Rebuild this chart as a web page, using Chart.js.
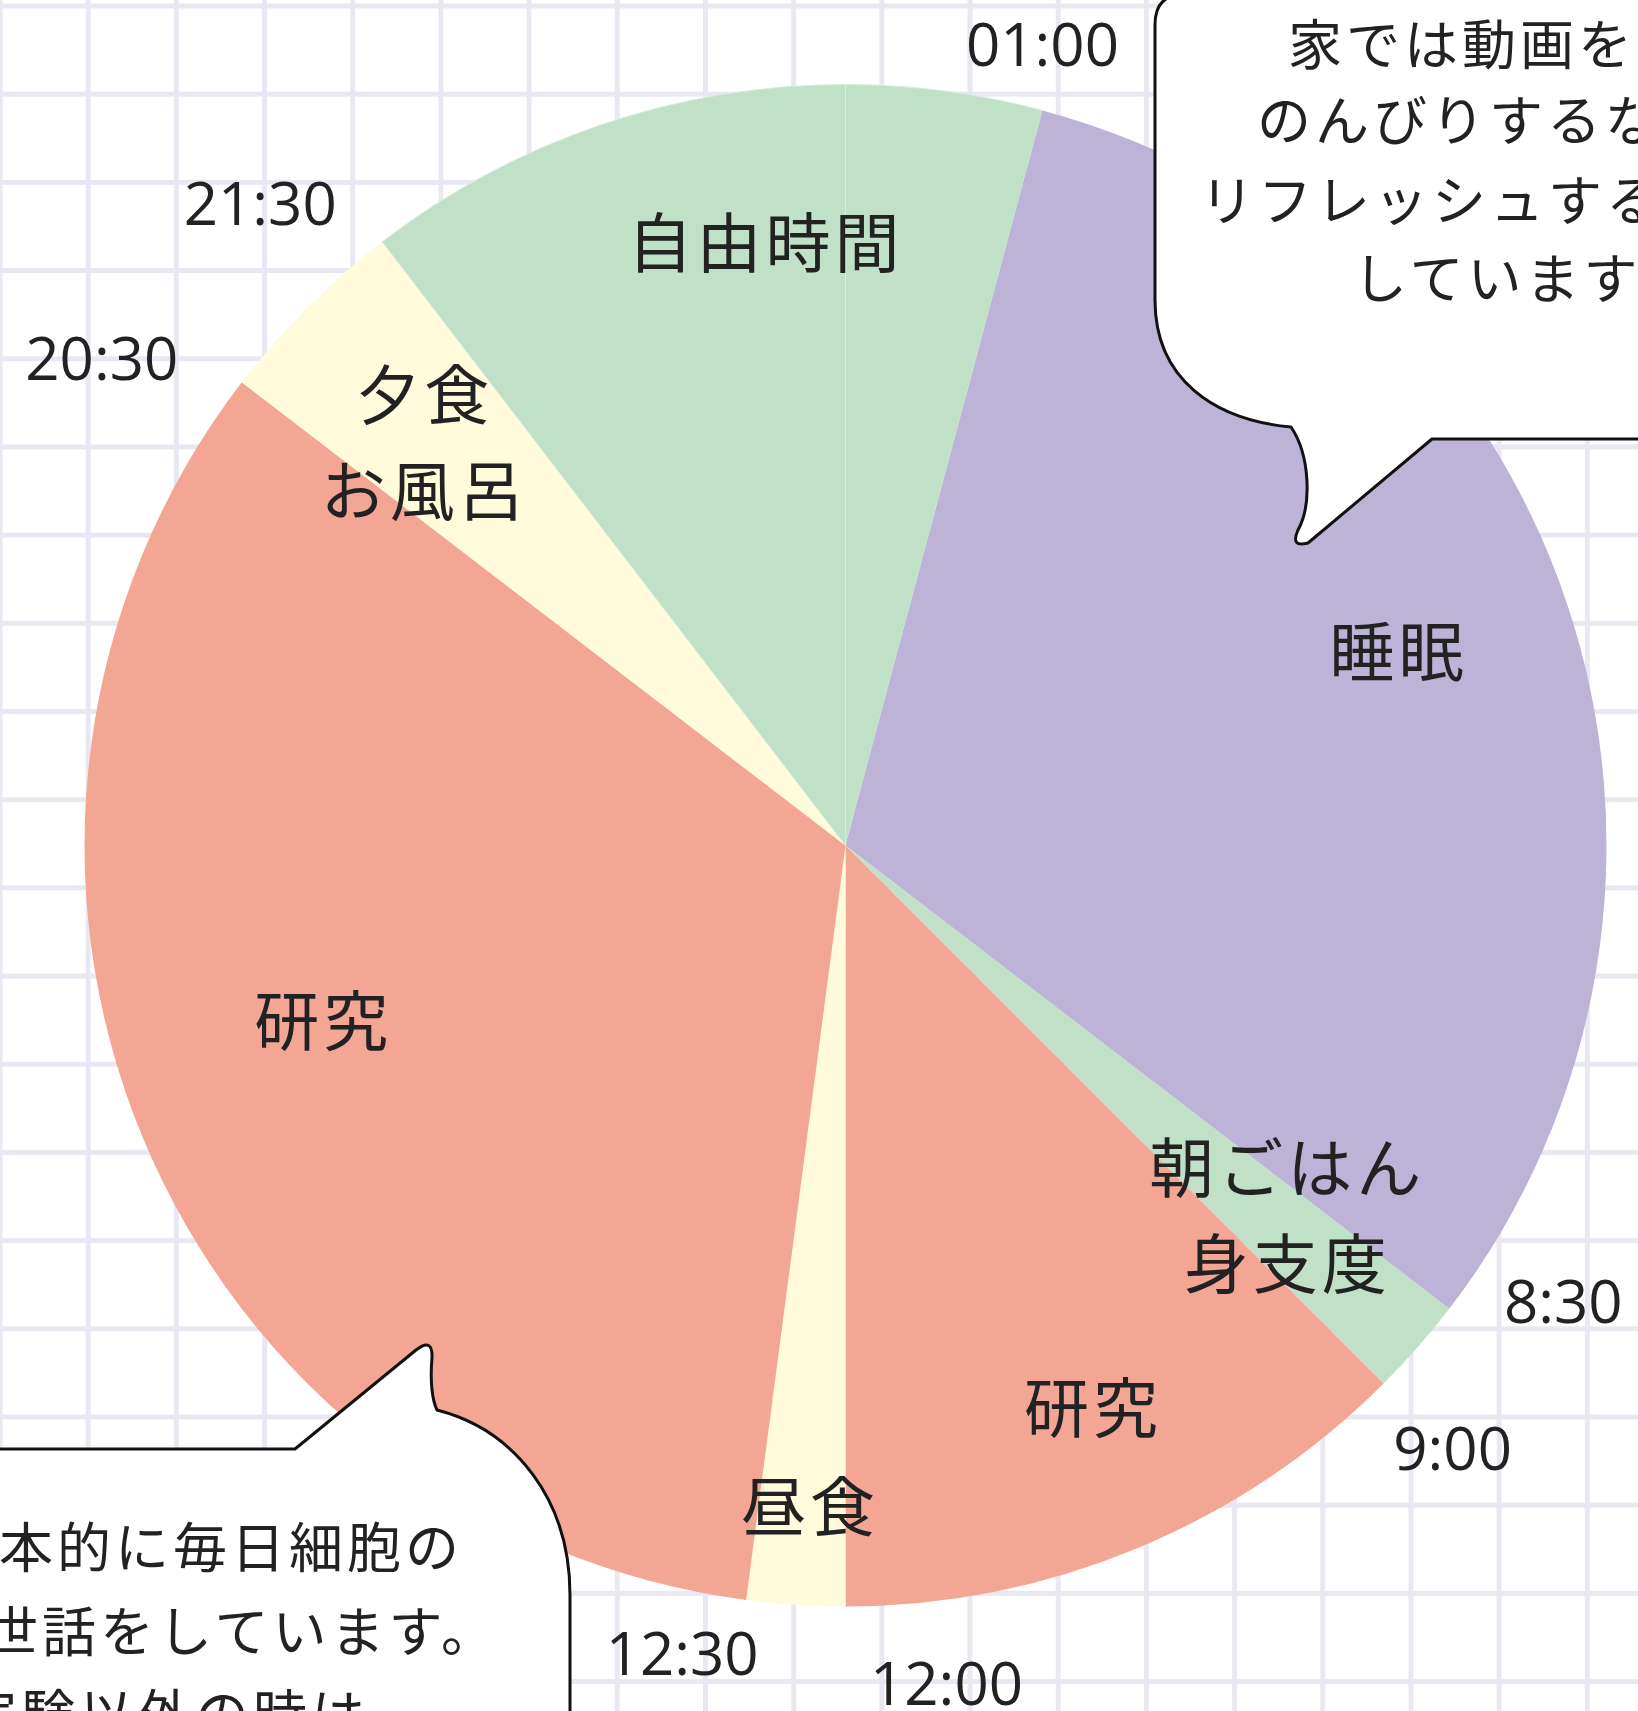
<!DOCTYPE html>
<html><head><meta charset="utf-8">
<script src="https://cdn.jsdelivr.net/npm/chart.js@4/dist/chart.umd.min.js"></script>
<style>
html,body{margin:0;padding:0;width:1638px;height:1711px;overflow:hidden;background-color:#fff;}
body{background-image:linear-gradient(to right,#e9e8f2 5px,transparent 5px),linear-gradient(to bottom,#e9e8f2 5px,transparent 5px);background-size:88.2px 88.2px;background-position:-2.5px 3.5px;}
#wrap{position:absolute;left:0;top:0;width:1638px;height:1711px;}
#over{position:absolute;left:0;top:0;}
</style></head>
<body>
<div id="wrap"><canvas id="c"></canvas></div>
<svg id="over" width="1638" height="1711" viewBox="0 0 1638 1711">
  <path d="M 1700,-6 L 1185,-6 Q 1155,-6 1155,25 L 1155,300 C 1155,380 1215,420 1291,427 C 1310,455 1312,505 1298,530 Q 1290,548 1308,543 L 1432,439 L 1700,439 Z" fill="#fff" stroke="#111" stroke-width="3" stroke-linejoin="round"/>
  <path d="M -10,1449 L 295,1449 L 416,1350 Q 433,1337 432,1358 C 430,1380 432,1400 437,1410 C 515,1430 570,1500 570,1595 L 570,1720 L -10,1720 Z" fill="#fff" stroke="#111" stroke-width="3" stroke-linejoin="round"/>
  <g font-family="Noto Sans CJK JP" font-size="54" letter-spacing="4" fill="#222">
    <text x="1288" y="65">家では動画を見て</text>
    <text x="1257" y="141">のんびりするなどして</text>
    <text x="1200" y="221">リフレッシュするように</text>
    <text x="1353" y="299">しています。</text>
    <text x="-59" y="1568">基本的に毎日細胞の</text>
    <text x="-74" y="1652">お世話をしています。</text>
    <text x="-37" y="1735">実験以外の時は、</text>
  </g>
</svg>
<script>
// ---- data ----
const categories = ['自由時間','睡眠','朝ごはん\n身支度','研究','昼食','研究','夕食\nお風呂','自由時間'];
const hours = [1, 7.5, 0.5, 3, 0.5, 8, 1, 2.5];
const endTimeLabels = ['01:00','8:30','9:00','12:00','12:30','20:30','21:30',''];
// ---- styles ----
const sliceColors = ['#c0e0c8','#bcb3d6','#c0e0c8','#f4a694','#fffbdb','#f4a694','#fffbdb','#c0e0c8'];

function drawSpaced(ctx, text, x, y, spacing){
  const chars = Array.from(text);
  const ws = chars.map(ch => ctx.measureText(ch).width);
  const total = ws.reduce((a,b)=>a+b,0) + spacing*(chars.length-1);
  let cur = x - total/2;
  ctx.textAlign = 'left';
  chars.forEach((ch,i)=>{ ctx.fillText(ch, cur, y); cur += ws[i] + spacing; });
}

const sliceLabelPlugin = {
  id:'sliceLabels',
  afterDatasetsDraw(chart, args, opts){
    const ctx = chart.ctx;
    const arcs = chart.getDatasetMeta(0).data;
    ctx.save();
    ctx.fillStyle = opts.color;
    ctx.font = opts.font;
    ctx.textBaseline = 'alphabetic';
    opts.items.forEach(it=>{
      const a0 = arcs[it.from].getProps(['x','y','startAngle','outerRadius'], true);
      const a1 = arcs[it.to].getProps(['endAngle'], true);
      let s = a0.startAngle, e = a1.endAngle;
      if (e < s) e += Math.PI*2;
      const mid = (s+e)/2 + it.da*Math.PI/180;
      const r = a0.outerRadius*it.rf;
      const px = a0.x + r*Math.cos(mid), py = a0.y + r*Math.sin(mid);
      const lines = categories[it.from].split('\n');
      const n = lines.length;
      lines.forEach((ln,k)=>{
        const cy = py + (k-(n-1)/2)*opts.lineHeight;
        drawSpaced(ctx, ln, px, cy + opts.size*0.38, opts.spacing);
      });
    });
    ctx.restore();
  }
};

const timeLabelPlugin = {
  id:'timeLabels',
  afterDatasetsDraw(chart, args, opts){
    const ctx = chart.ctx;
    const arcs = chart.getDatasetMeta(0).data;
    ctx.save();
    ctx.fillStyle = opts.color;
    ctx.font = opts.font;
    ctx.textBaseline = 'alphabetic';
    ctx.textAlign = 'center';
    arcs.forEach((arc,i)=>{
      const t = endTimeLabels[i];
      if(!t) return;
      const p = arc.getProps(['x','y','endAngle','outerRadius'], true);
      const bx = p.x + p.outerRadius*Math.cos(p.endAngle);
      const by = p.y + p.outerRadius*Math.sin(p.endAngle);
      const off = opts.offsets[i];
      ctx.fillText(t, bx+off[0], by+off[1]+opts.size*0.357);
    });
    ctx.restore();
  }
};

new Chart(document.getElementById('c'), {
  type:'pie',
  data:{
    labels: categories,
    datasets:[{
      data: hours,
      backgroundColor: sliceColors,
      borderWidth: [1,0,0,0,0,0,0,1],
      borderColor: '#d6ecdd'
    }]
  },
  options:{
    responsive:true,
    maintainAspectRatio:false,
    animation:false,
    events:[],
    layout:{padding:{left:84,top:84,right:31,bottom:104}},
    plugins:{
      legend:{display:false},
      tooltip:{enabled:false},
      sliceLabels:{
        color:'#222', font:'400 65px "Noto Sans CJK JP"', size:65, spacing:4, lineHeight:96,
        items:[
          {from:7,to:0,rf:0.80,da:3.5},
          {from:1,to:1,rf:0.768,da:-0.7},
          {from:2,to:2,rf:0.755,da:-1.2},
          {from:3,to:3,rf:0.806,da:-1.1},
          {from:4,to:4,rf:0.87,da:-0.5},
          {from:5,to:5,rf:0.726,da:4.1},
          {from:6,to:6,rf:0.768,da:-1.4}
        ]
      },
      timeLabels:{
        color:'#222', font:'500 60px "Open Sans"', size:62,
        offsets:[[0,-67],[114,-8],[69,64],[101,76],[-64,53],[-140,-24],[-122,-39]]
      }
    }
  },
  plugins:[sliceLabelPlugin, timeLabelPlugin]
});
</script>
</body></html>
